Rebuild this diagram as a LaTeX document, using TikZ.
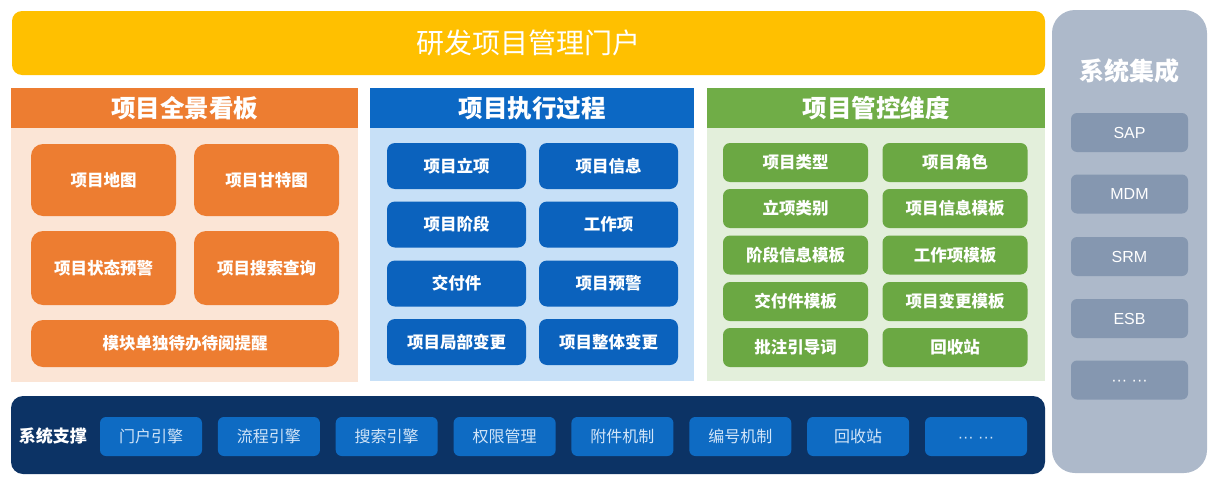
\documentclass[tikz,border=0pt]{standalone}
\usepackage{fontspec}
\setmainfont{Noto Sans CJK SC}
\newfontfamily\latin{Liberation Sans}
\usepackage{tikz}
\definecolor{portalY}{HTML}{FFC000}
\definecolor{boardO}{HTML}{ED7D31}
\definecolor{boardBg}{HTML}{FBE5D6}
\definecolor{execB}{HTML}{0C68C4}
\definecolor{execBox}{HTML}{0B62BD}
\definecolor{execBg}{HTML}{C7E0F7}
\definecolor{ctrlG}{HTML}{70AD47}
\definecolor{ctrlBox}{HTML}{6BA843}
\definecolor{ctrlBg}{HTML}{E3EFDB}
\definecolor{baseN}{HTML}{0C3365}
\definecolor{baseBox}{HTML}{0E6BC3}
\definecolor{baseTxt}{HTML}{D2E5F8}
\definecolor{integG}{HTML}{ADB9CA}
\definecolor{integBox}{HTML}{8597B0}
\tikzset{
  box/.style={rectangle,inner sep=0,text=white,font=\fontsize{16.5}{18}\selectfont\bfseries},
  head/.style={rectangle,inner sep=0,text=white,minimum height=40pt,font=\fontsize{24.5}{28}\selectfont\bfseries},
  obox/.style={box,fill=boardO,rounded corners=12pt,minimum width=145pt},
  bbox/.style={box,fill=execBox,rounded corners=8pt,minimum width=139pt,minimum height=46pt},
  gbox/.style={box,fill=ctrlBox,rounded corners=7pt,minimum width=145pt,minimum height=39pt},
  nbox/.style={box,fill=baseBox,text=baseTxt,rounded corners=6pt,minimum width=102pt,minimum height=39pt,font=\fontsize{16}{18}\selectfont},
  sbox/.style={box,fill=integBox,rounded corners=6pt,minimum width=117pt,minimum height=39pt,font=\fontsize{16}{18}\selectfont\latin}
}
\def\more{\vphantom{S}··· ···}

\begin{document}
\begin{tikzpicture}[x=1pt,y=-1pt]
      \useasboundingbox (0,0) rectangle (1216,482);

      %门户
      \node[rectangle,fill=portalY,rounded corners=10pt,minimum width=1033pt,minimum height=64pt,text=white,font=\fontsize{28}{32}\selectfont] (portal) at (528.5,43) {研发项目管理门户};

      %项目全景看板
      \node[rectangle,fill=boardBg,minimum width=347pt,minimum height=294pt] (boardbg) at (184.5,235) {};
      \node[head,fill=boardO,minimum width=347pt] (board) at (184.5,108) {项目全景看板};
      \node[obox,minimum height=72pt] (map) at (103.5,180) {项目地图};
      \node[obox,minimum height=72pt] (gantt) at (266.5,180) {项目甘特图};
      \node[obox,minimum height=74pt] (warn) at (103.5,268) {项目状态预警};
      \node[obox,minimum height=74pt] (search) at (266.5,268) {项目搜索查询};
      \node[obox,minimum width=308pt,minimum height=47pt] (todo) at (185,343.5) {模块单独待办待阅提醒};

      %项目执行过程
      \node[rectangle,fill=execBg,minimum width=324pt,minimum height=293pt] (execbg) at (532,234.5) {};
      \node[head,fill=execB,minimum width=324pt] (exec) at (532,108) {项目执行过程};
      \node[bbox] (setup) at (456.5,166) {项目立项};
      \node[bbox] (info) at (608.5,166) {项目信息};
      \node[bbox] (stage) at (456.5,224.5) {项目阶段};
      \node[bbox] (work) at (608.5,224.5) {工作项};
      \node[bbox] (deliv) at (456.5,283.5) {交付件};
      \node[bbox] (alarm) at (608.5,283.5) {项目预警};
      \node[bbox] (partchg) at (456.5,342) {项目局部变更};
      \node[bbox] (allchg) at (608.5,342) {项目整体变更};

      %项目管控维度
      \node[rectangle,fill=ctrlBg,minimum width=338pt,minimum height=293pt] (ctrlbg) at (876,234.5) {};
      \node[head,fill=ctrlG,minimum width=338pt] (ctrl) at (876,108) {项目管控维度};
      \node[gbox] (ptype) at (795.5,162.5) {项目类型};
      \node[gbox] (prole) at (955,162.5) {项目角色};
      \node[gbox] (pcat) at (795.5,208.5) {立项类别};
      \node[gbox] (infotpl) at (955,208.5) {项目信息模板};
      \node[gbox] (stagetpl) at (795.5,255) {阶段信息模板};
      \node[gbox] (worktpl) at (955,255) {工作项模板};
      \node[gbox] (delivtpl) at (795.5,301.5) {交付件模板};
      \node[gbox] (chgtpl) at (955,301.5) {项目变更模板};
      \node[gbox] (note) at (795.5,347.5) {批注引导词};
      \node[gbox] (bin) at (955,347.5) {回收站};

      %系统支撑
      \node[rectangle,fill=baseN,rounded corners=12pt,minimum width=1034pt,minimum height=78pt] (base) at (528,435) {};
      \node[box,font=\fontsize{17}{20}\selectfont\bfseries] (baselbl) at (53,436) {系统支撑};
      \node[nbox] (eportal) at (151,436.5) {门户引擎};
      \node[nbox] (eflow) at (268.9,436.5) {流程引擎};
      \node[nbox] (esearch) at (386.7,436.5) {搜索引擎};
      \node[nbox] (eauth) at (504.6,436.5) {权限管理};
      \node[nbox] (eattach) at (622.4,436.5) {附件机制};
      \node[nbox] (enum) at (740.3,436.5) {编号机制};
      \node[nbox] (ebin) at (858.2,436.5) {回收站};
      \node[nbox,font=\fontsize{16}{18}\selectfont\latin] (emore) at (976,436.5) {\more};

      %系统集成
      \node[rectangle,fill=integG,rounded corners=23pt,minimum width=155pt,minimum height=463pt] (integ) at (1129.5,241.5) {};
      \node[box,font=\fontsize{25}{28}\selectfont\bfseries] (integlbl) at (1129.5,71) {系统集成};
      \node[sbox] (sap) at (1129.5,132.5) {SAP};
      \node[sbox] (mdm) at (1129.5,194) {MDM};
      \node[sbox] (srm) at (1129.5,256.5) {SRM};
      \node[sbox] (esb) at (1129.5,318.5) {ESB};
      \node[sbox] (smore) at (1129.5,380) {\more};

    \end{tikzpicture}
\end{document}
